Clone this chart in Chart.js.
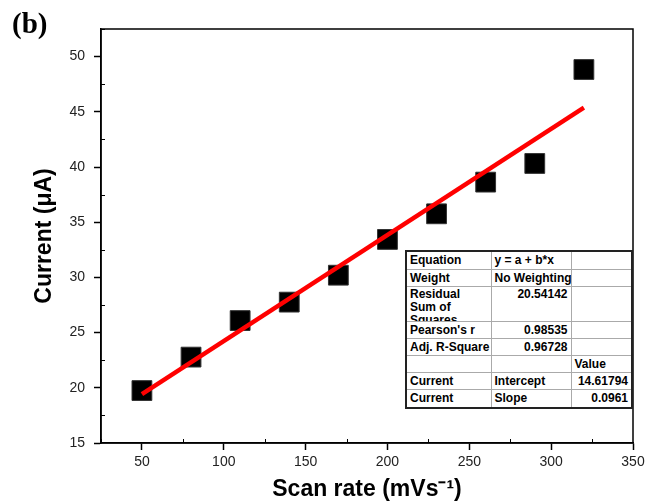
<!DOCTYPE html>
<html>
<head>
<meta charset="utf-8">
<script src="https://cdn.jsdelivr.net/npm/chart.js@4.4.0/dist/chart.umd.min.js"></script>
<style>
body { margin: 0; background: #fff; }
#wrap { position: relative; width: 657px; height: 503px; }
#panel { position: absolute; left: 12px; top: 7px; font: bold 29px "Liberation Serif", "Times New Roman", serif; color: #000; }
#fit { position: absolute; left: 405px; top: 250px; width: 226px; border-collapse: collapse; table-layout: fixed;
       font: bold 12px "Liberation Sans", Arial, sans-serif; color: #000; background: #fff; border: 2px solid #222; }
#fit td { border: 1px solid #aaa; padding: 0 3px; overflow: hidden; white-space: nowrap; vertical-align: middle; }
#fit td.r { text-align: right; }
#fit td.t { vertical-align: top; }
#fit .clip { height: 33px; overflow: hidden; white-space: normal; line-height: 13px; padding-top: 1px; }
</style>
</head>
<body>
<div id="wrap">
  <canvas id="chart" width="657" height="503"></canvas>
  <div id="panel">(b)</div>
  <table id="fit">
    <colgroup><col style="width:85px"><col style="width:80px"><col style="width:61px"></colgroup>
    <tr style="height:18px"><td>Equation</td><td>y = a + b*x</td><td></td></tr>
    <tr style="height:17px"><td>Weight</td><td>No Weighting</td><td></td></tr>
    <tr style="height:35px"><td class="t"><div class="clip">Residual<br>Sum of<br>Squares</div></td><td class="r t">20.54142</td><td></td></tr>
    <tr style="height:17px"><td>Pearson's r</td><td class="r">0.98535</td><td></td></tr>
    <tr style="height:17px"><td>Adj. R-Square</td><td class="r">0.96728</td><td></td></tr>
    <tr style="height:17px"><td></td><td></td><td>Value</td></tr>
    <tr style="height:17px"><td>Current</td><td>Intercept</td><td class="r">14.61794</td></tr>
    <tr style="height:19px"><td>Current</td><td>Slope</td><td class="r">0.0961</td></tr>
  </table>
</div>
<script>
// measured points
var scanRate = [50, 80, 110, 140, 170, 200, 230, 260, 290, 320];
var current = [19.75, 22.78, 26.09, 27.76, 30.2, 33.44, 35.76, 38.63, 40.32, 48.83];

// linear fit line ends
var fitX = [50, 320];
var fitY = [19.42, 45.37];

// ticks
var xTicks = [50, 100, 150, 200, 250, 300, 350];
var xMinor = [25, 75, 125, 175, 225, 275, 325];
var yTicks = [15, 20, 25, 30, 35, 40, 45, 50];
var yMinor = [17.5, 22.5, 27.5, 32.5, 37.5, 42.5, 47.5, 52.5];

function toPoints(xs, ys) {
  return xs.map(function (x, i) { return { x: x, y: ys[i] }; });
}

// box around plot + small inward minor ticks
var frame = {
  id: 'frame',
  afterDraw: function (chart) {
    var a = chart.chartArea, ctx = chart.ctx;
    var xs = chart.scales.x, ys = chart.scales.y;
    ctx.save();
    ctx.strokeStyle = '#000';
    ctx.lineWidth = 1.5;
    ctx.strokeRect(a.left, a.top, a.right - a.left, a.bottom - a.top);
    ctx.lineWidth = 1;
    ctx.beginPath();
    xMinor.forEach(function (v) {
      var px = Math.round(xs.getPixelForValue(v)) + 0.5;
      ctx.moveTo(px, a.bottom);
      ctx.lineTo(px, a.bottom - 4);
    });
    yMinor.forEach(function (v) {
      var py = Math.round(ys.getPixelForValue(v)) + 0.5;
      ctx.moveTo(a.left, py);
      ctx.lineTo(a.left + 4, py);
    });
    ctx.stroke();
    ctx.restore();
  }
};

var tickFont = { family: '"Liberation Sans", Arial, sans-serif', size: 14 };
var titleFont = { family: '"Liberation Sans", Arial, sans-serif', size: 23, weight: 'bold' };

new Chart(document.getElementById('chart'), {
  type: 'scatter',
  data: {
    datasets: [
      {
        type: 'line',
        data: toPoints(fitX, fitY),
        showLine: true,
        borderColor: '#ff0000',
        borderWidth: 4.5,
        pointRadius: 0,
        fill: false
      },
      {
        data: toPoints(scanRate, current),
        pointStyle: 'rect',
        pointRadius: 14,
        backgroundColor: '#000',
        borderColor: '#333',
        borderWidth: 1
      }
    ]
  },
  options: {
    responsive: false,
    animation: false,
    layout: { padding: { top: 29, right: 24, left: 0, bottom: 0 } },
    plugins: { legend: { display: false }, tooltip: { enabled: false } },
    scales: {
      x: {
        type: 'linear',
        min: 25,
        max: 350,
        afterBuildTicks: function (s) { s.ticks = xTicks.map(function (v) { return { value: v }; }); },
        afterFit: function (s) { s.height = 60; },
        grid: { display: true, drawOnChartArea: false, drawTicks: true, tickLength: 7, tickColor: '#000', tickWidth: 1.5 },
        border: { display: true, color: '#000', width: 1.5 },
        ticks: { color: '#222', font: tickFont, padding: 4, maxRotation: 0 },
        title: { display: true, text: 'Scan rate (mVs⁻¹)', color: '#000', font: titleFont, padding: { top: 0, bottom: 0 } }
      },
      y: {
        min: 15,
        max: 52.5,
        afterBuildTicks: function (s) { s.ticks = yTicks.map(function (v) { return { value: v }; }); },
        afterFit: function (s) { s.width = 101; },
        grid: { display: true, drawOnChartArea: false, drawTicks: true, tickLength: 7, tickColor: '#000', tickWidth: 1.5 },
        border: { display: true, color: '#000', width: 1.5 },
        ticks: { color: '#222', font: tickFont, padding: 9 },
        title: { display: true, text: 'Current (μA)', color: '#000', font: titleFont, padding: { top: 31, bottom: 0 } }
      }
    }
  },
  plugins: [frame]
});
</script>
</body>
</html>
